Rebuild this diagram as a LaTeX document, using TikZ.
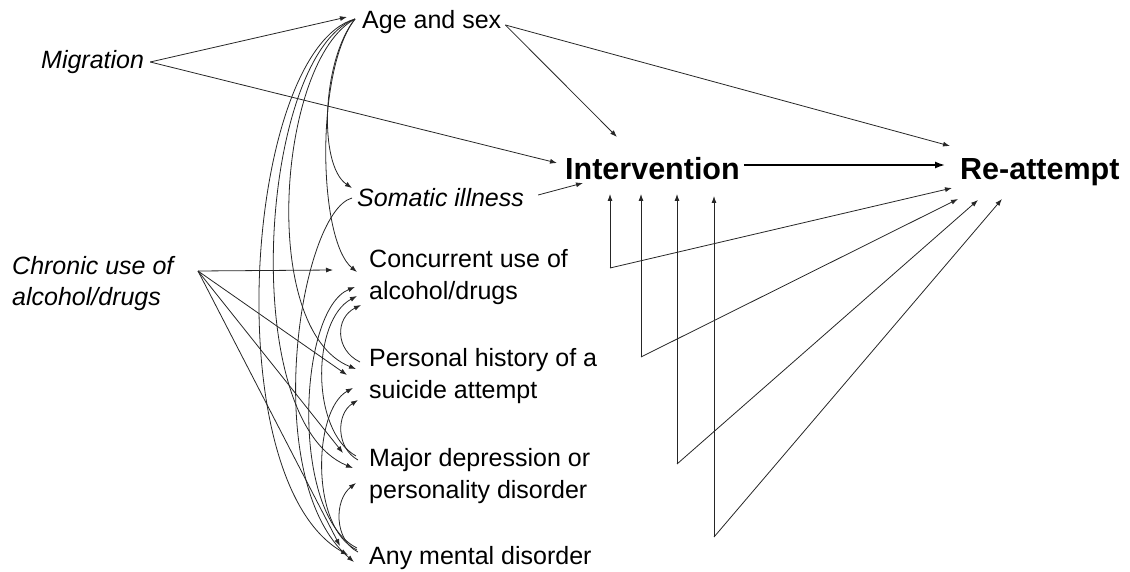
\documentclass[tikz,border=0pt]{standalone}
\usepackage{fontspec}
\setmainfont{Liberation Sans}
\usetikzlibrary{arrows.meta}
\begin{document}
\begin{tikzpicture}[x=1pt,y=-1pt,
  lbl/.style={anchor=base west,inner sep=0pt,font=\fontsize{25}{32}\selectfont},
  ilbl/.style={anchor=base west,inner sep=0pt,font=\fontsize{25}{30}\selectfont\itshape},
  blbl/.style={anchor=base west,inner sep=0pt,font=\fontsize{30.5}{36}\selectfont\bfseries},
  arr/.style={draw=black!85,line width=0.8pt,-{Latex[length=7pt,width=5pt]}},
  mainarr/.style={draw=black,line width=1.6pt,-{Latex[length=10pt,width=7pt]}}]
\useasboundingbox (0,0) rectangle (1130,572);

% nodes
\node[ilbl] (mig) at (41,69) {Migration};
\node[lbl] (age) at (362,29) {Age and sex};
\node[blbl] (int) at (565,180) {Intervention};
\node[blbl] (re) at (960,180) {Re-attempt};
\node[ilbl] (som) at (357,207) {Somatic illness};
\node[ilbl] (chr) at (12,275) {\begin{tabular}[t]{@{}l@{}}Chronic use of\\alcohol/drugs\end{tabular}};
\node[lbl] (conc) at (369,268) {\begin{tabular}[t]{@{}l@{}}Concurrent use of\\alcohol/drugs\end{tabular}};
\node[lbl] (pers) at (369,366) {\begin{tabular}[t]{@{}l@{}}Personal history of a\\suicide attempt\end{tabular}};
\node[lbl] (maj) at (369,466) {\begin{tabular}[t]{@{}l@{}}Major depression or\\personality disorder\end{tabular}};
\node[lbl] (any) at (369,564) {Any mental disorder};

\coordinate (f1) at (610,268);
\coordinate (f2) at (641,357);
\coordinate (f3) at (677,464);
\coordinate (f4) at (714,537);

% straight connectors
\draw[arr] ([shift={(6,-7)}]mig.base east) -- ([shift={(-15,-12)}]age.base west);
\draw[arr] ([shift={(6,-7)}]mig.base east) -- ([shift={(-8,-17)}]int.base west);
\draw[arr] ([shift={(4,-4)}]age.base east) -- ([shift={(52,-43)}]int.base west);
\draw[arr] ([shift={(4,-4)}]age.base east) -- ([shift={(-10,-34)}]re.base west);
\draw[mainarr] ([shift={(4,-15)}]int.base east) -- ([shift={(-15,-15)}]re.base west);
\draw[arr] ([shift={(14,-12)}]som.base east) -- ([shift={(18,3)}]int.base west);

% forks
\draw[arr] (f1) -- ([shift={(45,14)}]int.base west);
\draw[arr] (f1) -- ([shift={(-8,8)}]re.base west);
\draw[arr] (f2) -- ([shift={(76,14)}]int.base west);
\draw[arr] (f2) -- ([shift={(-2,19)}]re.base west);
\draw[arr] (f3) -- ([shift={(112,14)}]int.base west);
\draw[arr] (f3) -- ([shift={(18,20)}]re.base west);
\draw[arr] (f4) -- ([shift={(149,16)}]int.base west);
\draw[arr] (f4) -- ([shift={(42,19)}]re.base west);

% chronic use
\draw[arr] ([shift={(186,-4)}]chr.base west) -- ([shift={(-36,2)}]conc.base west);
\draw[arr] ([shift={(186,-4)}]chr.base west) -- ([shift={(-22,9)}]pers.base west);
\draw[arr] ([shift={(186,-4)}]chr.base west) -- ([shift={(-26,-13)}]maj.base west);
\draw[arr] ([shift={(186,-4)}]chr.base west) -- ([shift={(-29,-18)}]any.base west);

% age and sex curves
\draw[arr] ([shift={(-7,-10)}]age.base west) .. controls (322,60) and (318,165) .. ([shift={(-5,-19)}]som.base west);
\draw[arr] ([shift={(-7,-10)}]age.base west) .. controls (315,70) and (318,240) .. ([shift={(-12,4)}]conc.base west);
\draw[arr] ([shift={(-7,-10)}]age.base west) .. controls (278,60) and (258,330) .. ([shift={(-13,3)}]pers.base west);
\draw[arr] ([shift={(-7,-10)}]age.base west) .. controls (260,55) and (236,420) .. ([shift={(-16,2)}]maj.base west);
\draw[arr] ([shift={(-7,-10)}]age.base west) .. controls (245,50) and (215,480) .. ([shift={(-21,-9)}]any.base west);

% somatic illness
\draw[arr] ([shift={(-5,-9)}]som.base west) .. controls (300,212) and (258,480) .. ([shift={(-15,-2)}]any.base west);

% upward arcs
\draw[arr] ([shift={(-9,-4)}]pers.base west) .. controls (335,350) and (335,318) .. ([shift={(-8,37)}]conc.base west);
\draw[arr] ([shift={(-13,-10)}]maj.base west) .. controls (310,430) and (312,320) .. ([shift={(-12,28)}]conc.base west);
\draw[arr] ([shift={(-12,-16)}]any.base west) .. controls (290,515) and (298,310) .. ([shift={(-14,19)}]conc.base west);
\draw[arr] ([shift={(-11,-6)}]maj.base west) .. controls (336,448) and (336,414) .. ([shift={(-11,34)}]pers.base west);
\draw[arr] ([shift={(-12,-14)}]any.base west) .. controls (310,528) and (313,410) .. ([shift={(-16,22)}]pers.base west);
\draw[arr] ([shift={(-11,-12)}]any.base west) .. controls (334,540) and (334,500) .. ([shift={(-13,17)}]maj.base west);
\end{tikzpicture}
\end{document}
